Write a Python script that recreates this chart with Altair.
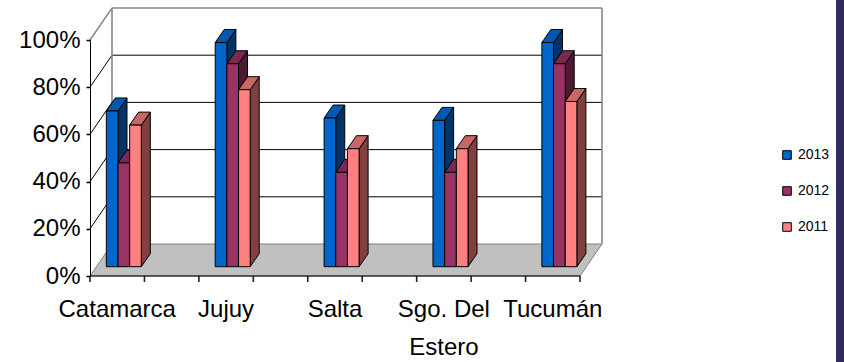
import altair as alt
import pandas as pd

# ---- data ----
categories = ["Catamarca", "Jujuy", "Salta", "Sgo. Del Estero", "Tucumán"]
cat_labels = ["Catamarca", "Jujuy", "Salta", "Sgo. Del\nEstero", "Tucumán"]
years = ["2013", "2012", "2011"]
v2013 = [0.66, 0.95, 0.63, 0.62, 0.95]
v2012 = [0.44, 0.86, 0.40, 0.40, 0.86]
v2011 = [0.60, 0.75, 0.50, 0.50, 0.70]
y_ticks = [0, 0.2, 0.4, 0.6, 0.8, 1.0]
x_ticks = list(range(10))

front_colors = ["#0066CC", "#993366", "#FF8080"]
top_colors = ["#0058B0", "#7A2952", "#CC6666"]
side_colors = ["#003366", "#4D1A33", "#804040"]

FONT = "Liberation Sans"

# ---- geometry (style) ----
W, H = 490, 236
X_MAX = 9
px_x = W / X_MAX
px_y = H / 1.0
WALL_DX, WALL_DY = 22, 32      # depth of the floor / back wall in px
PLANE_DX, PLANE_DY = 6.6, 9.3  # plane of the bars in px
BAR_DX, BAR_DY = 9, 13         # depth of each bar in px
TICK_PX = 6                    # length of the x tick marks in px
BW = 11.67 / px_x              # bar width in x units

wdx, wdy = WALL_DX / px_x, WALL_DY / px_y
pdx, pdy = PLANE_DX / px_x, PLANE_DY / px_y
bdx, bdy = BAR_DX / px_x, BAR_DY / px_y

series = [v2013, v2012, v2011]
fronts, tops, sides = [], [], []
for i, cat in enumerate(categories):
    for j, yr in enumerate(years):
        v = series[j][i]
        center = 2 * i + 0.5 + pdx
        xl = center + (j - 1.5) * BW
        xr = xl + BW
        y0 = pdy
        y1 = pdy + v
        bid = f"{i}-{j}"
        fronts.append(dict(id=bid, year=yr, cat=cat, xl=xl, xr=xr, y0=y0, y1=y1))
        tops.append(dict(id=bid, y=y1, x=xl, x2=xr, c=top_colors[j]))
        tops.append(dict(id=bid, y=y1 + bdy, x=xl + bdx, x2=xr + bdx, c=top_colors[j]))
        sides.append(dict(id=bid, x=xr, y=y0, y2=y1, c=side_colors[j]))
        sides.append(dict(id=bid, x=xr + bdx, y=y0 + bdy, y2=y1 + bdy, c=side_colors[j]))

fronts_df = pd.DataFrame(fronts)
tops_df = pd.DataFrame(tops)
sides_df = pd.DataFrame(sides)

floor_df = pd.DataFrame([
    dict(y=0, x=0, x2=X_MAX),
    dict(y=wdy, x=wdx, x2=X_MAX + wdx),
])
grid_df = pd.DataFrame(dict(v=y_ticks))
grid_df["x"] = wdx
grid_df["x2"] = X_MAX + wdx
grid_df["yb"] = grid_df["v"] + wdy
grid_df["x0"] = 0.0
grid_df["inner"] = [(0 < t < 1) for t in y_ticks]
edges_df = pd.DataFrame(dict(x=[wdx, X_MAX + wdx], y=[wdy, wdy], y2=[1 + wdy, 1 + wdy]))
labels_df = pd.DataFrame(dict(label=cat_labels, pos=[2 * i + 0.5 for i in range(len(categories))]))
xtick_df = pd.DataFrame(dict(t=x_ticks))
xtick_df["ya"] = 0.0
xtick_df["yb"] = -TICK_PX / px_y
xdomain_df = pd.DataFrame(dict(a=[0], b=[X_MAX], y=[0]))

xs = alt.Scale(domain=[0, X_MAX], nice=False, zero=False)
ys = alt.Scale(domain=[0, 1], nice=False, zero=False)

AX = alt.Axis(values=x_ticks, labels=False, ticks=False, domain=False, grid=False, title=None)
AY = alt.Axis(values=y_ticks, format=".0%", ticks=True, tickSize=4, tickWidth=1.5, labelPadding=6,
              grid=False, domain=True, title=None, domainColor="black", tickColor="black",
              labelFont=FONT, labelFontSize=24, labelColor="black", zindex=1)

def X(f):
    return alt.X(f, type="quantitative", scale=xs, axis=AX)

def Y(f):
    return alt.Y(f, type="quantitative", scale=ys, axis=AY)

strip = alt.Chart(pd.DataFrame(dict(k=[0]))).mark_rect(color="#2E2B5F").encode(
    x=alt.value(746), x2=alt.value(760), y=alt.value(-40), y2=alt.value(330)
)

floor = alt.Chart(floor_df).mark_area(
    orient="horizontal", fill="#C0C0C0", stroke="#808080", strokeWidth=1
).encode(y=Y("y"), x=X("x"), x2="x2")

inner_grid = alt.Chart(grid_df).transform_filter("datum.inner").mark_rule(
    color="black", strokeWidth=1
).encode(x=X("x"), x2="x2", y=Y("yb"))
inner_diag = alt.Chart(grid_df).transform_filter("datum.inner").mark_rule(
    color="black", strokeWidth=1
).encode(x=X("x0"), x2="x", y=Y("v"), y2="yb")
outer_grid = alt.Chart(grid_df).transform_filter("datum.v == 1").mark_rule(
    color="#888888", strokeWidth=1.6
).encode(x=X("x"), x2="x2", y=Y("yb"))
outer_diag = alt.Chart(grid_df).transform_filter("datum.v == 1").mark_rule(
    color="#888888", strokeWidth=1.4
).encode(x=X("x0"), x2="x", y=Y("v"), y2="yb")
wall_edges = alt.Chart(edges_df).mark_rule(color="#888888", strokeWidth=1.6).encode(
    x=X("x"), y=Y("y"), y2="y2"
)

x_domain = alt.Chart(xdomain_df).mark_rule(color="black", strokeWidth=1.2).encode(
    x=X("a"), x2="b", y=Y("y")
)
x_tick_marks = alt.Chart(xtick_df).mark_rule(color="#222222", strokeWidth=1.6).encode(
    x=X("t"), y=Y("ya"), y2="yb"
)

side_faces = alt.Chart(sides_df).mark_area(
    orient="vertical", stroke="black", strokeWidth=1
).encode(x=X("x"), y=Y("y"), y2="y2", detail="id:N", fill=alt.Fill("c:N", scale=None))

top_faces = alt.Chart(tops_df).mark_area(
    orient="horizontal", stroke="black", strokeWidth=1
).encode(y=Y("y"), x=X("x"), x2="x2", detail="id:N", fill=alt.Fill("c:N", scale=None))

front_faces = alt.Chart(fronts_df).mark_bar(stroke="black", strokeWidth=1).encode(
    x=X("xl"),
    x2="xr",
    y=Y("y0"),
    y2="y1",
    color=alt.Color("year:N", scale=alt.Scale(domain=years, range=front_colors),
                    legend=alt.Legend(title=None, orient="none", legendX=690, legendY=108,
                                      symbolType="square", symbolSize=74,
                                      symbolStrokeColor="black", symbolStrokeWidth=1,
                                      labelFont=FONT, labelFontSize=14, labelColor="black",
                                      rowPadding=22, labelOffset=4, padding=0)),
    order=alt.Order("id:N"),
)

cat_text = alt.Chart(labels_df).mark_text(
    align="center", baseline="alphabetic", lineBreak="\n", font=FONT, fontSize=24,
    lineHeight=38, color="black"
).encode(x=X("pos"), y=alt.value(H + 41), text="label:N")

chart = alt.layer(
    strip, floor, inner_grid, inner_diag, outer_grid, outer_diag, wall_edges,
    x_tick_marks, side_faces, top_faces, front_faces, x_domain, cat_text
).properties(
    width=W, height=H,
    autosize=alt.AutoSizeParams(type="none"),
    padding={"left": 90, "top": 40, "right": 264, "bottom": 86},
).configure_view(stroke=None).configure_axis(domainWidth=1)

chart.save("out.html", embed_options={"renderer": "svg", "actions": False})
